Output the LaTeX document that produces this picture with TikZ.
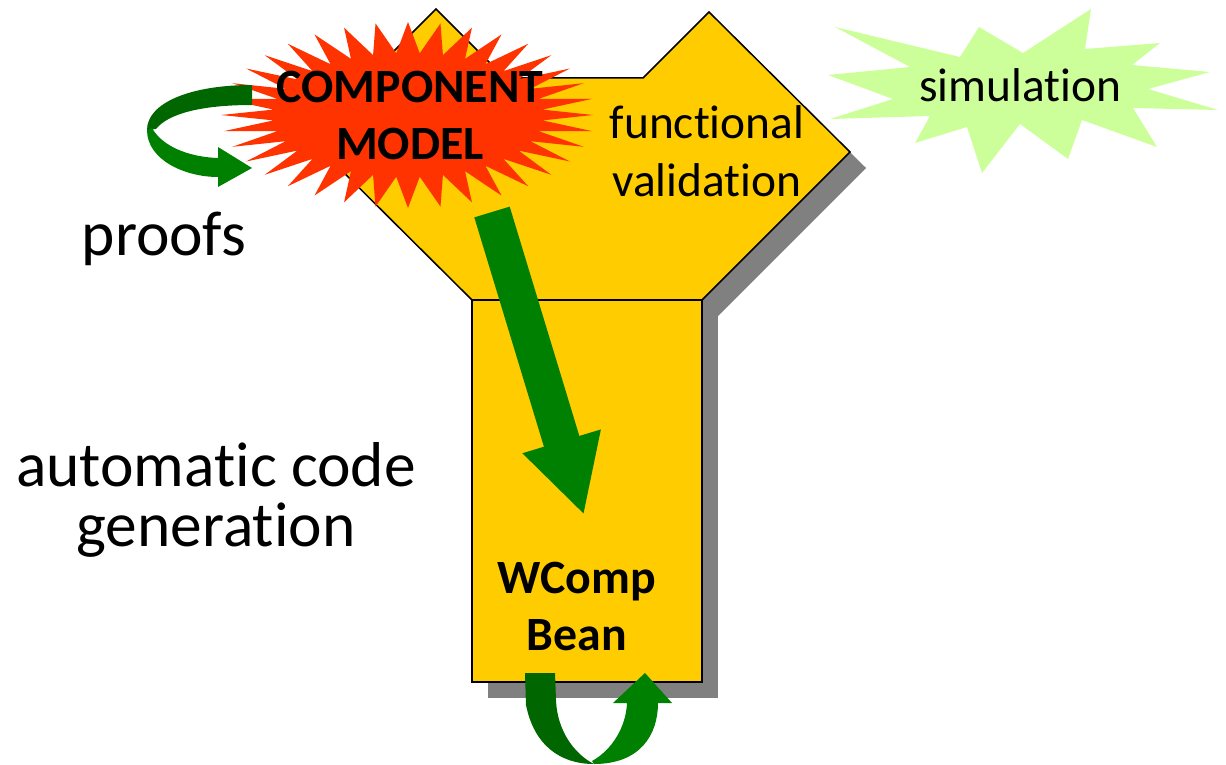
\documentclass[tikz,border=0pt]{standalone}
\usepackage{fontspec}
\setmainfont{Carlito}[Ligatures={NoCommon,NoContextual}]
\usetikzlibrary{arrows.meta}
\definecolor{ycolor}{RGB}{255,204,0}
\definecolor{shadowcolor}{RGB}{128,128,128}
\definecolor{modelcolor}{RGB}{255,51,0}
\definecolor{simcolor}{RGB}{204,255,153}
\definecolor{darkarrow}{RGB}{0,102,0}
\definecolor{arrowcolor}{RGB}{0,128,0}

\begin{document}
\begin{tikzpicture}[
    x=0.5pt, y=-0.5pt,
    part/.style={draw=black, line width=0.75pt, fill=ycolor, line join=miter},
    shade/.style={fill=shadowcolor},
    label/.style={font=\fontsize{23.7}{29}\selectfont, align=center, inner sep=0pt},
    boldlabel/.style={label, font=\fontsize{23.9}{28.5}\selectfont\bfseries},
    biglabel/.style={font=\fontsize{31.7}{30}\selectfont, align=center, inner sep=0pt},
    flow/.style={-{Triangle[length=38.5pt, width=38pt]}, line width=18.5pt, arrowcolor},
    loopdark/.style={fill=darkarrow},
    looplight/.style={fill=arrowcolor}
]
    \useasboundingbox (0,0) rectangle (1226,765);

    % shadow of the Y
    \fill[shade, shift={(16,16)}] (436,9) -- (505,78) -- (643,78) -- (709,12) -- (850,152)
        -- (702,300) -- (472,300) -- (308,137) -- cycle;
    \fill[shade, shift={(16,16)}] (472,300) rectangle (702,682);

    % Y: arms and stem
    \draw[part] (436,9) -- (505,78) -- (643,78) -- (709,12) -- (850,152)
        -- (702,300) -- (472,300) -- (308,137) -- cycle;
    \draw[part] (472,300) rectangle (702,682);

    % code generation arrow
    \coordinate (flowtail) at (492,212);
    \coordinate (flowtip) at (584,515);
    \draw[flow] (flowtail) -- (flowtip);

    % loop under the bean
    \coordinate (beanout) at (525,673);
    \coordinate (beanturn) at (594,764);
    \coordinate (beanin) at (645,673);
    \fill[loopdark] (beanout) -- (526,705) .. controls (534,745) and (560,764) .. (beanturn)
        .. controls (574,754) and (557,730) .. (556,700) -- (555,673) -- cycle;
    \fill[looplight] (beanturn) .. controls (640,764) and (658,735) .. (658,703)
        -- (672,703) -- (beanin) -- (613,703) -- (627,703)
        .. controls (626,727) and (612,750) .. (592,761) -- cycle;

    % component model burst
    \fill[modelcolor, shift={(408,115)}] (0:185 and 92)
        \foreach \i [evaluate=\i as \rx using {mod(\i,2)==0 ? 187 : 135},
                     evaluate=\i as \ry using {mod(\i,2)==0 ? 93 : 62}] in {1,...,71} {
            -- ({\i*5}:{\rx} and {\ry})
        } -- cycle;
    \node[boldlabel] (model) at (410,115) {COMPONENT\\MODEL};

    \node[label] (validation) at (707,151) {functional\\validation};

    % simulation burst
    \fill[simcolor] (835,27) -- (960,57) -- (979,27) -- (1023,53) -- (1091,9) -- (1085,49)
        -- (1160,43) -- (1132,65) -- (1210,72) -- (1148,89) -- (1218,110) -- (1133,108)
        -- (1157,147) -- (1082,120) -- (1068,159) -- (1020,124) -- (982,173) -- (967,127)
        -- (915,143) -- (930,116) -- (830,119) -- (893,99) -- (828,75) -- (910,67) -- cycle;
    \node[label, anchor=base] (simulation) at (1020,102) {simulation};

    % proofs loop
    \coordinate (proofout) at (252,85);
    \coordinate (proofturn) at (147,130);
    \coordinate (proofin) at (252,168);
    \fill[loopdark] (proofout) .. controls (190,85) and (147,103) .. (proofturn)
        -- (156,129) .. controls (168,114) and (200,105) .. (252,105) -- cycle;
    \fill[looplight] (proofturn) .. controls (147,160) and (185,177) .. (218,177)
        -- (218,187) -- (proofin) -- (218,147) -- (218,158)
        .. controls (188,157) and (162,146) .. (152,128) -- cycle;
    \node[biglabel, anchor=base] (proofs) at (164,255) {proofs};

    \node[biglabel] (codegen) at (216,500) {automatic code\\generation};
    \node[boldlabel] (bean) at (577,606) {WComp\\Bean};

\end{tikzpicture}
\end{document}
